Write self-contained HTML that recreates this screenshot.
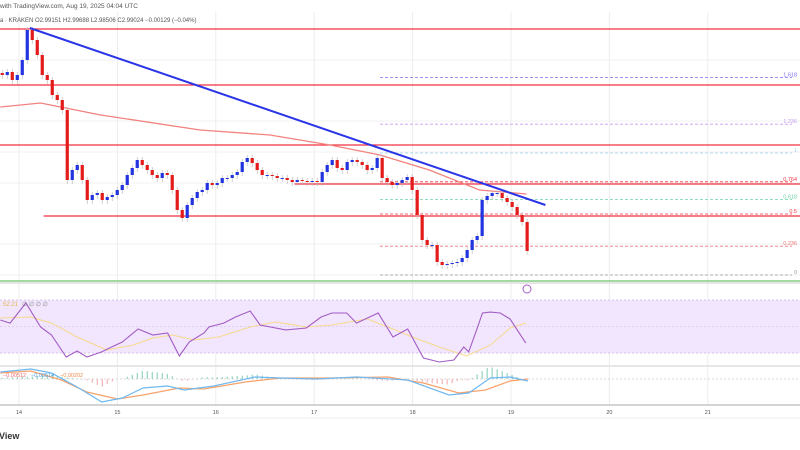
<!DOCTYPE html>
<html><head><meta charset="utf-8"><style>
html,body{margin:0;padding:0;background:#fff;width:800px;height:450px;overflow:hidden}
svg{display:block;font-family:"Liberation Sans",sans-serif}
</style></head><body>
<svg id="c" width="800" height="450" viewBox="0 0 800 450"></svg>
<script>
// ---- data ----
const dayLabels=[14,15,16,17,18,19,20,21];
const candleStartT=13.83;
const candleStepT=0.0508;
const closes=[3.25,3.256,3.24,3.25,3.28,3.34,3.32,3.29,3.25,3.24,3.21,3.2,3.18,3.04,3.06,3.07,3.04,3.0,3.01,3.014,3.0,3.006,3.01,3.02,3.03,3.05,3.064,3.08,3.07,3.06,3.05,3.044,3.054,3.05,3.02,2.98,2.964,2.99,3.004,3.016,3.02,3.034,3.03,3.034,3.044,3.044,3.05,3.056,3.076,3.084,3.074,3.06,3.05,3.05,3.048,3.044,3.044,3.04,3.036,3.04,3.038,3.036,3.038,3.036,3.056,3.07,3.08,3.064,3.06,3.076,3.08,3.076,3.07,3.06,3.064,3.084,3.044,3.036,3.03,3.034,3.04,3.046,3.02,2.97,2.92,2.91,2.91,2.876,2.87,2.872,2.874,2.876,2.884,2.9,2.92,2.928,3.0,3.008,3.014,3.014,3.004,2.996,2.986,2.97,2.956,2.898];
const srLevels=[3.342,3.23,3.11,3.032,2.968];
const srStartT=[13.6,13.8,13.8,16.8,14.25];
const fibRatios=[1.618,1.236,1,0.764,0.618,0.5,0.236,0];
const fibLabels=["1.618","1.236","1","0.764","0.618","0.5","0.236","0"];
const fibColors=["#7b6ff0","#c59cf2","#9fd3ea","#f23645","#6fd3a8","#f23645","#f0767a","#999"];
const fibLow=2.85, fibHigh=3.094;
const trendT=[14.11,19.35];
const trendP=[3.344,2.99];
const maT=[13.81,14.22,14.83,15.84,16.55,17.16,17.67,18.17,18.68,19.16];
const maP=[3.186,3.194,3.17,3.14,3.13,3.11,3.09,3.06,3.02,3.012];
const rsiT=[13.81,13.91,14.07,14.22,14.33,14.48,14.59,14.69,14.84,14.92,15.05,15.21,15.36,15.51,15.63,15.73,15.88,15.93,16.08,16.2,16.35,16.45,16.71,16.92,17.07,17.18,17.33,17.43,17.65,17.8,17.95,18.11,18.27,18.42,18.52,18.57,18.65,18.71,18.79,18.89,18.99,19.15];
const rsiV=[54.9,52.6,67.7,49.6,43.6,27,31.5,27,30.8,33.8,38.3,48.1,43.6,45.1,27.7,38.3,45.1,49.6,52.6,57.2,61.7,51.1,47.4,48.9,57.2,60.2,60.2,52.6,60.2,42.1,48.1,26.2,23.2,24.7,34.5,30.8,47.4,60.2,60.9,60.2,55.7,37.5];
const rsiMaT=[13.81,14.12,14.33,14.59,14.89,15.16,15.36,15.56,15.78,16.03,16.35,16.61,16.92,17.18,17.54,17.75,18.0,18.27,18.55,18.79,18.99,19.15];
const rsiMaV=[56.4,57.2,52.6,42.1,32.3,36.0,41.3,43.6,39.8,42.1,49.6,53.4,49.6,51.1,55.7,49.6,42.1,34.5,27.7,36.0,48.9,52.6];
const macdT=[13.81,14.12,14.33,14.59,14.84,15.05,15.26,15.51,15.68,15.98,16.4,16.66,17.02,17.43,17.95,18.37,18.57,18.79,18.99,19.17];
const macdV=[0.007,0.010,0.006,-0.008,-0.023,-0.019,-0.009,-0.007,-0.011,-0.007,0.002,0.001,0,0.002,-0.001,-0.016,-0.014,0.001,0.002,-0.002];
const sigT=[13.81,14.12,14.43,14.69,15.0,15.26,15.63,15.88,16.3,16.66,17.18,17.75,18.11,18.47,18.74,18.99,19.17];
const sigV=[0.006,0.008,-0.001,-0.013,-0.020,-0.016,-0.009,-0.010,-0.003,0.001,0.001,0.002,-0.004,-0.014,-0.011,-0.002,0];

// ---- scales ----
const xT=t=>19+(t-14)*98.4;
const yP=p=>(3.4-p)*500;
const yR=v=>353-(v-30)*1.325;
const yM=v=>379-v*1000;
const NS="http://www.w3.org/2000/svg";
const svg=document.getElementById('c');
function mk(tag,attrs,parent){const e=document.createElementNS(NS,tag);for(const k in attrs)e.setAttribute(k,attrs[k]);(parent||svg).appendChild(e);return e;}
function poly(ts,vs,fy){return ts.map((t,i)=>xT(t).toFixed(1)+","+fy(vs[i]).toFixed(1)).join(" ");}
function interp(ts,vs,t){if(t<=ts[0])return vs[0];for(let i=1;i<ts.length;i++){if(t<=ts[i]){const f=(t-ts[i-1])/(ts[i]-ts[i-1]);return vs[i-1]+f*(vs[i]-vs[i-1]);}}return vs[vs.length-1];}

// grid
const grid=mk('g',{});


dayLabels.forEach(d=>{mk('line',{x1:xT(d),x2:xT(d),y1:12,y2:405,stroke:'#ececec','stroke-width':1},grid);});
[60,121,152,183,244,275].forEach(y=>mk('line',{x1:0,x2:800,y1:y,y2:y,stroke:'#f0f0f0','stroke-width':1},grid));

// rsi pane
const rsiG=mk('g',{});


mk('line',{x1:0,x2:800,y1:283,y2:283,stroke:'#e6e6e6','stroke-width':2},rsiG);
mk('rect',{x:0,y:yR(70),width:800,height:yR(30)-yR(70),fill:'#f1e6fd'},rsiG);
[70,30].forEach(v=>mk('line',{x1:0,x2:800,y1:yR(v),y2:yR(v),stroke:'#c8b3e6','stroke-dasharray':'2,2','stroke-width':0.8},rsiG));
mk('line',{x1:0,x2:800,y1:yR(50),y2:yR(50),stroke:'#d6c6ee','stroke-dasharray':'2,2','stroke-width':0.8},rsiG);
mk('line',{x1:0,x2:800,y1:366,y2:366,stroke:'#e6e6e6','stroke-width':2},rsiG);
const rsiMa=mk('polyline',{points:poly(rsiMaT,rsiMaV,yR),fill:'none',stroke:'#f7d98c','stroke-width':1},rsiG);


const rsiL=mk('polyline',{points:poly(rsiT,rsiV,yR),fill:'none',stroke:'#a35cc4','stroke-width':1.1},rsiG);


const rl=mk('text',{x:3,y:306,'font-size':6,fill:'#e2b94c'},rsiG);rl.textContent='52.21';
const rl2=mk('text',{x:22,y:306,'font-size':6,fill:'#888'},rsiG);rl2.textContent='∅ ∅ ∅ ∅';



// macd pane
const mG=mk('g',{});


mk('line',{x1:0,x2:800,y1:379,y2:379,stroke:'#ccc','stroke-dasharray':'2,2','stroke-width':0.8},mG);
for(let i=0;i<closes.length;i++){
  const t=candleStartT+i*candleStepT;
  const h=(interp(macdT,macdV,t)-interp(sigT,sigV,t))*1.2;
  const b=mk('line',{x1:xT(t),x2:xT(t),y1:yM(0),y2:yM(h),stroke:h>=0?'#7fcbb5':'#f4a3a8','stroke-width':1},mG);
  
  
}
const sl=mk('polyline',{points:poly(sigT,sigV,yM),fill:'none',stroke:'#f6a26b','stroke-width':1.2},mG);


const ml=mk('polyline',{points:poly(macdT,macdV,yM),fill:'none',stroke:'#6fb8f0','stroke-width':1.2},mG);


[['−0.00512','#f06d6d',3],['−0.00514','#4da3ee',31],['−0.00202','#f08a4b',60]].forEach(a=>{const t=mk('text',{x:a[2],y:377,'font-size':5.5,fill:a[1]},mG);t.textContent=a[0];});

// axis
mk('line',{x1:0,x2:800,y1:405,y2:405,stroke:'#bbb','stroke-width':1.2});
mk('line',{x1:0,x2:800,y1:418,y2:418,stroke:'#eee','stroke-width':1});
dayLabels.forEach(d=>{const t=mk('text',{x:xT(d),y:414,'font-size':5.5,fill:'#555','text-anchor':'middle'});t.textContent=d;

});
const vw=mk('text',{x:-1,y:439,'font-size':9,'font-weight':'bold',fill:'#333'});vw.textContent='View';



// green line
mk('line',{x1:0,x2:800,y1:281,y2:281,stroke:'#6cc36c','stroke-width':1.2});

// fib
const fG=mk('g',{});


fibRatios.forEach((r,i)=>{const p=fibLow+r*(fibHigh-fibLow);const y=yP(p);
  mk('line',{x1:380,x2:792,y1:y,y2:y,stroke:fibColors[i],'stroke-dasharray':'3,2','stroke-width':0.8},fG);
  const t=mk('text',{x:797,y:y-1,'font-size':5.5,fill:fibColors[i],'text-anchor':'end'},fG);t.textContent=fibLabels[i];});

// S/R lines
srLevels.forEach((p,i)=>{const l=mk('line',{x1:xT(srStartT[i]),x2:800,y1:yP(p),y2:yP(p),stroke:'#f03040','stroke-width':1.3});

});

// MA
const ma=mk('polyline',{points:poly(maT,maP,yP),fill:'none',stroke:'#f2837e','stroke-width':1.3});



// candles
const cG=mk('g',{});


for(let i=0;i<closes.length;i++){
  const t=candleStartT+i*candleStepT;const x=xT(t);
  const o=i?closes[i-1]:closes[0]+0.004;const c=closes[i];
  const up=c>=o;const col=up?'#2234e0':'#e31b1b';
  const hi=Math.max(o,c)+0.006, lo=Math.min(o,c)-0.008;
  mk('line',{x1:x,x2:x,y1:yP(hi),y2:yP(lo),stroke:'#bbb','stroke-width':0.7},cG);
  const yt=yP(Math.max(o,c)),yb=yP(Math.min(o,c));
  const r=mk('rect',{x:x-1.6,y:yt,width:3.2,height:Math.max(1,yb-yt),fill:col},cG);
  
  
}

// trend line
const tl=mk('line',{x1:xT(trendT[0]),y1:yP(trendP[0]),x2:xT(trendT[1]),y2:yP(trendP[1]),stroke:'#2a35e8','stroke-width':2});



// icon
const ic=mk('circle',{cx:527,cy:289,r:4,fill:'none',stroke:'#a35cc4','stroke-width':1});



// header
const h1=mk('text',{x:0,y:8,'font-size':6.5,fill:'#555'});h1.textContent='with TradingView.com, Aug 19, 2025 04:04 UTC';


const h2=mk('text',{x:0,y:22,'font-size':6,fill:'#555'});h2.textContent='a · KRAKEN  O2.99151  H2.99688  L2.98506  C2.99024  −0.00129 (−0.04%)';


</script>
</body></html>
